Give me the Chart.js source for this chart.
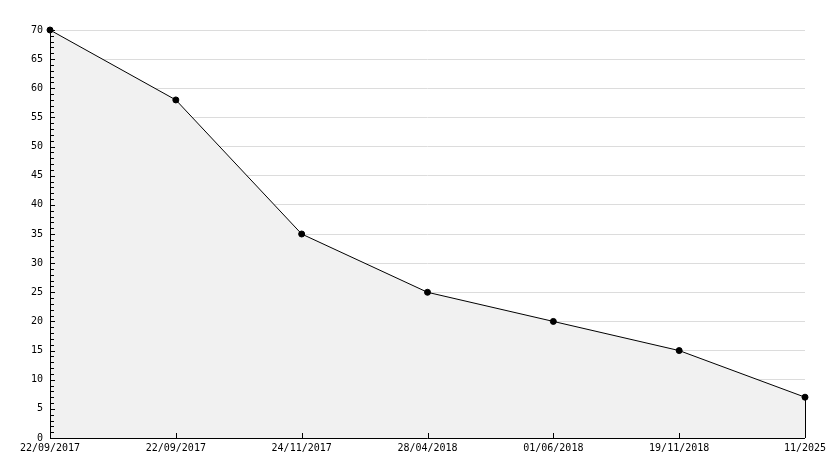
<!DOCTYPE html>
<html>
<head>
<meta charset="utf-8">
<script src="https://cdn.jsdelivr.net/npm/chart.js@4"></script>
<style>
  html, body { margin: 0; padding: 0; background: #fff; }
  #wrap { width: 834px; height: 468px; }
</style>
</head>
<body>
<div id="wrap"><canvas id="chart"></canvas></div>
<script>
const dates = ["22/09/2017", "22/09/2017", "24/11/2017", "28/04/2018", "01/06/2018", "19/11/2018", "11/2025"];
const values = [70, 58, 35, 25, 20, 15, 7];
const yMax = 70;
const yStep = 5;

// ticks drawn inside the plot, plus the closing edge of the area
const innerTicks = {
  id: "innerTicks",
  afterDatasetsDraw(chart) {
    const { ctx, chartArea, scales } = chart;
    const x = scales.x, y = scales.y;
    ctx.save();
    ctx.strokeStyle = "#000";
    ctx.lineWidth = 1;
    ctx.beginPath();
    for (let v = 0; v <= yMax; v++) {
      const py = Math.round(y.getPixelForValue(v)) + 0.5;
      const len = v % yStep === 0 ? 5 : 4;
      ctx.moveTo(chartArea.left, py);
      ctx.lineTo(chartArea.left + len, py);
    }
    for (let i = 1; i < dates.length - 1; i++) {
      const px = Math.round(x.getPixelForValue(i)) + 0.5;
      ctx.moveTo(px, chartArea.bottom);
      ctx.lineTo(px, chartArea.bottom - 5);
    }
    const last = values.length - 1;
    const lx = Math.round(x.getPixelForValue(last)) + 0.5;
    ctx.moveTo(lx, y.getPixelForValue(values[last]));
    ctx.lineTo(lx, y.getPixelForValue(0));
    ctx.stroke();

    // axes
    ctx.beginPath();
    ctx.moveTo(chartArea.left + 0.5, chartArea.top);
    ctx.lineTo(chartArea.left + 0.5, chartArea.bottom + 0.5);
    ctx.lineTo(chartArea.right, chartArea.bottom + 0.5);
    ctx.stroke();
    ctx.restore();
  }
};

const ctx = document.getElementById("chart").getContext("2d");
new Chart(ctx, {
  type: "line",
  data: {
    labels: dates,
    datasets: [{
      data: values,
      borderColor: "#000",
      borderWidth: 1,
      backgroundColor: "#f1f1f1",
      fill: "origin",
      clip: false,
      tension: 0,
      pointRadius: 3,
      pointStyle: "circle",
      pointBackgroundColor: "#000",
      pointBorderColor: "#000",
      pointBorderWidth: 1
    }]
  },
  options: {
    responsive: true,
    maintainAspectRatio: false,
    animation: false,
    layout: { padding: { top: 30, right: 29, left: 0, bottom: 0 } },
    plugins: {
      legend: { display: false },
      tooltip: { enabled: false }
    },
    scales: {
      x: {
        offset: false,
        border: { display: false },
        grid: { display: false, drawTicks: false },
        afterFit: (s) => { s.height = 30; },
        ticks: {
          color: "#000",
          font: { family: "DejaVu Sans Mono", size: 10 },
          maxRotation: 0,
          autoSkip: false,
          padding: 4
        }
      },
      y: {
        min: 0,
        max: yMax,
        border: { display: false },
        grid: {
          color: (c) => c.tick.value === 0 ? "rgba(0,0,0,0)" : "#dcdcdc",
          drawTicks: false
        },
        afterFit: (s) => { s.width = 50; },
        ticks: {
          stepSize: yStep,
          color: "#000",
          font: { family: "DejaVu Sans Mono", size: 10 },
          padding: 7
        }
      }
    }
  },
  plugins: [innerTicks]
});
</script>
</body>
</html>
